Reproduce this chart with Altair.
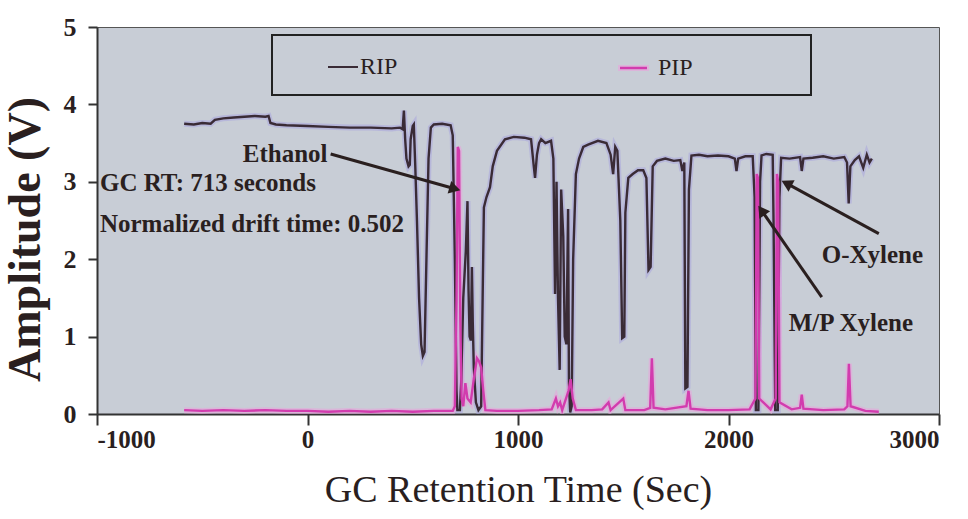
import altair as alt
import pandas as pd

# ---------------- data ----------------
series_names = ["RIP", "PIP"]

rip_time = [-586, -540, -500, -460, -440, -400, -350, -300, -250, -200, -185, -176, -150, -100, 0, 100, 200, 300,
            400, 440, 452, 458, 464, 470, 480, 486, 490, 500, 505, 512, 520, 530, 540, 548, 556, 565, 575, 586,
            600, 640, 680, 690, 700, 708, 712, 724, 730, 740, 752, 760, 765, 770, 776, 781, 785, 790, 800, 812,
            825, 832, 838, 850, 867, 880, 900, 938, 980, 1030, 1062, 1075, 1081, 1090, 1100, 1110, 1130, 1157,
            1168, 1176, 1183, 1190, 1198, 1205, 1215, 1222, 1230, 1238, 1242, 1248, 1255, 1262, 1275, 1290, 1310,
            1333, 1380, 1420, 1440, 1452, 1462, 1472, 1486, 1495, 1505, 1510, 1524, 1545, 1570, 1595, 1610, 1620,
            1630, 1640, 1660, 1700, 1740, 1771, 1781, 1790, 1795, 1805, 1812, 1824, 1860, 1900, 1950, 2000, 2030,
            2038, 2046, 2080, 2115, 2124, 2130, 2142, 2150, 2157, 2180, 2210, 2214, 2222, 2234, 2242, 2250, 2290,
            2340, 2348, 2356, 2400, 2450, 2500, 2550, 2563, 2571, 2579, 2600, 2620, 2640, 2657, 2670, 2681]
rip_amp = [3.75, 3.74, 3.76, 3.75, 3.80, 3.82, 3.83, 3.84, 3.85, 3.84, 3.85, 3.76, 3.74, 3.73, 3.72, 3.71, 3.70, 3.70,
           3.69, 3.70, 3.68, 3.92, 3.55, 3.30, 3.20, 3.22, 3.55, 3.72, 3.74, 3.20, 2.50, 1.50, 0.90, 0.75, 0.80, 2.00, 3.30, 3.70,
           3.74, 3.75, 3.73, 3.60, 2.00, 0.30, 0.05, 0.05, 0.40, 1.50, 2.10, 2.75, 1.60, 1.00, 0.95, 1.90, 1.20, 0.60, 0.15, 0.05,
           0.10, 1.50, 2.67, 2.80, 2.93, 3.20, 3.40, 3.55, 3.58, 3.57, 3.55, 3.20, 3.05, 3.35, 3.50, 3.55, 3.50, 3.53,
           3.30, 1.55, 3.00, 1.50, 0.57, 2.90, 2.30, 1.00, 0.90, 2.65, 0.40, 0.02, 0.10, 2.00, 3.10, 3.30, 3.45,
           3.48, 3.53, 3.50, 3.35, 3.10, 3.45, 3.40, 2.50, 0.98, 1.00, 2.60, 3.05, 3.10, 3.15, 3.15, 3.05, 1.86,
           1.90, 3.20, 3.27, 3.30, 3.27, 3.28, 3.14, 3.25, 0.33, 0.35, 2.90, 3.34, 3.35, 3.33, 3.34, 3.33, 3.30,
           3.14, 3.30, 3.33, 3.33, 2.80, 0.05, 0.05, 3.00, 3.34, 3.36, 3.35, 2.50, 0.05, 0.05, 2.80, 3.31, 3.30,
           3.32, 3.14, 3.30, 3.31, 3.33, 3.30, 3.32, 3.25, 2.72, 3.20, 3.28, 3.33, 3.18, 3.35, 3.25, 3.30]

pip_time = [-586, -500, -400, -300, -200, -100, 0, 100, 200, 300, 400, 500, 600, 690, 700, 708, 714, 720, 726, 732,
            740, 750, 760, 775, 790, 805, 815, 825, 835, 845, 900, 1000, 1100, 1160, 1180, 1190, 1200, 1210, 1240,
            1250, 1260, 1275, 1350, 1400, 1430, 1440, 1500, 1510, 1600, 1628, 1636, 1644, 1700, 1800, 1810, 1820,
            1900, 2000, 2100, 2128, 2134, 2140, 2146, 2200, 2224, 2230, 2236, 2242, 2300, 2340, 2348, 2356, 2450,
            2550, 2565, 2572, 2580, 2650, 2714]
pip_amp = [0.05, 0.04, 0.05, 0.04, 0.05, 0.04, 0.04, 0.03, 0.04, 0.03, 0.04, 0.03, 0.04, 0.04, 0.10, 1.50, 3.45, 3.40, 1.20, 0.20,
           0.10, 0.40, 0.20, 0.15, 0.45, 0.72, 0.68, 0.60, 0.30, 0.05, 0.04, 0.04, 0.05, 0.06, 0.20, 0.10, 0.15, 0.05, 0.30,
           0.45, 0.20, 0.05, 0.05, 0.06, 0.15, 0.05, 0.20, 0.05, 0.05, 0.08, 0.72, 0.08, 0.06, 0.10, 0.30, 0.07,
           0.05, 0.05, 0.06, 0.20, 3.10, 3.05, 0.20, 0.06, 0.20, 3.10, 3.00, 0.15, 0.06, 0.08, 0.25, 0.07, 0.05,
           0.06, 0.10, 0.65, 0.10, 0.04, 0.03]

x_ticks = [-1000, 0, 1000, 2000, 3000]
y_ticks = [0, 1, 2, 3, 4, 5]

# annotations: text, x, y (data units), align
ann_text = ["Ethanol", "GC RT: 713 seconds", "Normalized drift time: 0.502", "O-Xylene", "M/P Xylene"]
ann_x = [95, -986, -986, 2443, 2286]
ann_y = [3.36, 2.99, 2.46, 2.05, 1.17]
ann_align = ["right", "left", "left", "left", "left"]

# arrows: start -> tip (data units), head angle in degrees (screen, clockwise)
arr_x1 = [110, 2714, 2443]
arr_y1 = [3.36, 2.33, 1.51]
arr_x2 = [700, 2276, 2157]
arr_y2 = [2.91, 2.98, 2.63]
arr_angle = [16, 208, 235]

# ---------------- styling ----------------
FONT = "Liberation Serif"
INK = "#2a1f1f"
RIP_C = "#3a2b36"
PIP_C = "#d23cae"
RIP_HALO = "#aaa5de"
PIP_HALO = "#eaa3dc"

df_rip = pd.DataFrame({"t": rip_time, "a": rip_amp, "s": series_names[0]})
df_pip = pd.DataFrame({"t": pip_time, "a": pip_amp, "s": series_names[1]})

xs = alt.Scale(domain=[-1000, 3000], nice=False, zero=False)
ys = alt.Scale(domain=[0, 5], nice=False)

xax = alt.Axis(values=x_ticks, labelExpr="'' + datum.value", title="GC Retention Time (Sec)", grid=False,
               labelFont=FONT, labelFontWeight="bold", labelFontSize=25, labelColor=INK,
               labelPadding=2, tickSize=11, tickWidth=2, tickColor="#333", domainColor="#333", domainWidth=2,
               titleFont=FONT, titleFontWeight="normal", titleFontSize=38, titleColor=INK,
               titleY=76, titleBaseline="middle")
yax = alt.Axis(values=y_ticks, format="d", title="Amplitude (V)", grid=False,
               labelFont=FONT, labelFontWeight="bold", labelFontSize=26, labelColor=INK,
               labelPadding=12, tickSize=9, tickWidth=2, tickColor="#333", domainColor="#333", domainWidth=2,
               titleFont=FONT, titleFontWeight="bold", titleFontSize=46, titleColor=INK,
               titleX=-72, titleY=212, titleAngle=-90, titleAlign="center", titleBaseline="middle")


def X(field):
    return alt.X(field, scale=xs, axis=xax, title="GC Retention Time (Sec)")


def Y(field):
    return alt.Y(field, scale=ys, axis=yax, title="Amplitude (V)")


def series_line(df, color, width, opacity=1.0):
    return alt.Chart(df).mark_line(color=color, strokeWidth=width, opacity=opacity, clip=True).encode(
        x=X("t:Q"), y=Y("a:Q"), order=alt.Order("t:Q"),
    )


halo_rip = series_line(df_rip, RIP_HALO, 6, 0.55)
halo_pip = series_line(df_pip, PIP_HALO, 6, 0.55)
line_rip = series_line(df_rip, RIP_C, 2.4)
line_pip = series_line(df_pip, PIP_C, 2.4)

ann_df = pd.DataFrame({"txt": ann_text, "x": ann_x, "y": ann_y, "al": ann_align})
ann_layers = []
for al in ["left", "right"]:
    ann_layers.append(
        alt.Chart(ann_df[ann_df.al == al]).mark_text(
            font=FONT, fontWeight="bold", fontSize=25, color=INK, align=al, baseline="middle"
        ).encode(x=X("x:Q"), y=Y("y:Q"), text="txt:N")
    )

arr_df = pd.DataFrame({"x1": arr_x1, "y1": arr_y1, "x2": arr_x2, "y2": arr_y2, "ang": arr_angle})
shafts = alt.Chart(arr_df).mark_rule(color=INK, strokeWidth=3).encode(
    x=X("x1:Q"), y=Y("y1:Q"), x2="x2:Q", y2="y2:Q")
heads = alt.Chart(arr_df).mark_point(shape="triangle-right", filled=True, color=INK, size=170, opacity=1).encode(
    x=X("x2:Q"), y=Y("y2:Q"), angle=alt.Angle("ang:Q", scale=None))

# hand-drawn legend box like the reference
one = pd.DataFrame({"s": [""]})
box = alt.Chart(one).mark_rect(fillOpacity=0, stroke="#222", strokeWidth=2).encode(
    x=alt.value(175), x2=alt.value(714), y=alt.value(8), y2=alt.value(68))
leg_rip_line = alt.Chart(one).mark_rule(color=RIP_C, strokeWidth=2).encode(
    x=alt.value(231), x2=alt.value(261), y=alt.value(40))
leg_pip_halo = alt.Chart(one).mark_rule(color=PIP_HALO, strokeWidth=6, opacity=0.6).encode(
    x=alt.value(521), x2=alt.value(552), y=alt.value(41))
leg_pip_line = alt.Chart(one).mark_rule(color=PIP_C, strokeWidth=2.5).encode(
    x=alt.value(523), x2=alt.value(550), y=alt.value(41))
leg_rip_txt = alt.Chart(pd.DataFrame({"s": [series_names[0]]})).mark_text(
    font=FONT, fontSize=24, color=INK, align="left", baseline="middle").encode(
    x=alt.value(263), y=alt.value(40), text="s:N")
leg_pip_txt = alt.Chart(pd.DataFrame({"s": [series_names[1]]})).mark_text(
    font=FONT, fontSize=24, color=INK, align="left", baseline="middle").encode(
    x=alt.value(561), y=alt.value(41), text="s:N")

chart = alt.layer(
    halo_rip, halo_pip, line_rip, line_pip, shafts, heads, *ann_layers,
    box, leg_rip_line, leg_pip_halo, leg_pip_line, leg_rip_txt, leg_pip_txt
).properties(
    width=842, height=387,
    autosize=alt.AutoSizeParams(type="none"),
    padding={"left": 97, "top": 27, "right": 29, "bottom": 105},
    background="white",
).configure_view(
    fill="#c8cdd6", stroke="#555", strokeWidth=1
)

chart.save("out.html", embed_options={"renderer": "svg", "actions": False})
